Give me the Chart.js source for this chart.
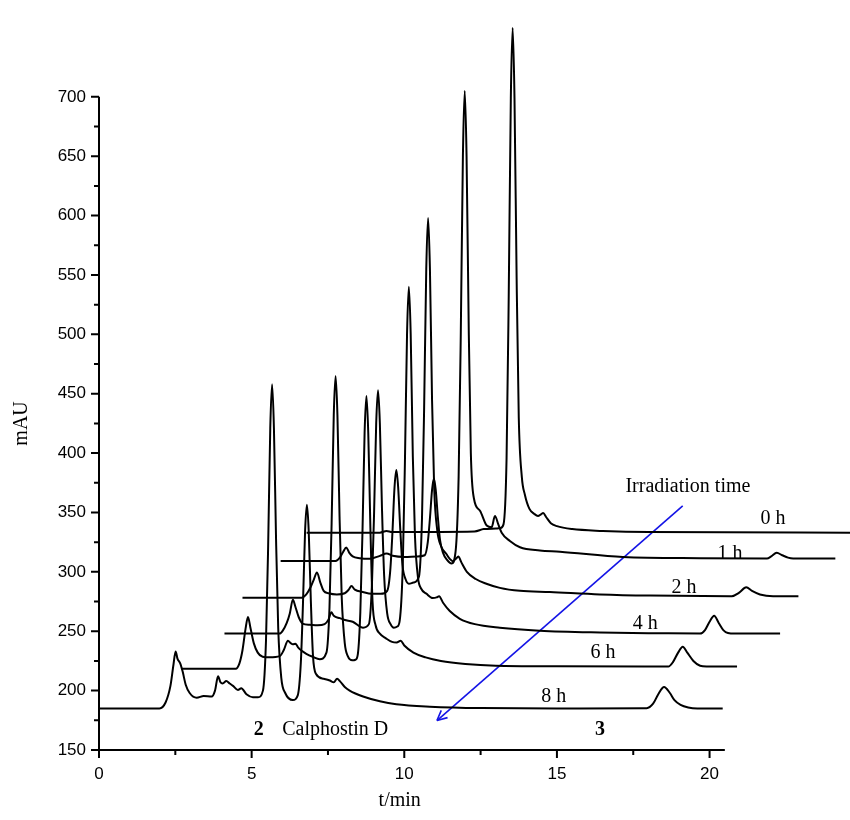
<!DOCTYPE html>
<html>
<head>
<meta charset="utf-8">
<title>Calphostin D irradiation - HPLC traces</title>
<script src="https://cdn.jsdelivr.net/npm/chart.js@4.4.1/dist/chart.umd.min.js"></script>
<style>
  html, body { margin: 0; padding: 0; background: #fff; }
  #chart { display: block; }
</style>
</head>
<body>
<canvas id="chart" width="850" height="820"></canvas>
<script>
// [t/min, mAU] (traces are offset in the figure)
const trace0h = [[6.8,333],[9.2,333],[9.42,334.5],[9.6,333.5],[12.3,334],[12.6,336],[13.0,336.5],[13.15,337],[13.25,340],
    [13.35,395],[13.42,530],[13.49,699],[13.55,758],[13.61,699],[13.68,547],[13.75,430],[13.85,380],[13.95,365],[14.1,353],
    [14.25,349],[14.38,347],[14.48,348.5],[14.55,349.5],[14.65,346],[14.8,341],[15.0,338.5],[15.5,336],[16.5,334.5],[18.0,333.5],[24.6,333]];

const trace1h = [[5.95,309.2],[7.75,309.2],[7.89,312],[8.0,317],[8.1,320.5],[8.2,316],[8.31,313],[8.54,311.5],[8.87,311],
    [9.2,313.5],[9.42,315.5],[9.62,313.5],[10.02,312.5],[10.41,313],[10.67,314],[10.77,325],[10.84,345],[10.91,369],[10.97,378.6],
    [11.03,369],[11.1,346],[11.17,327],[11.27,316],[11.4,310],[11.55,307],[11.68,317],[11.78,380],[11.85,499],[11.92,650],[11.98,705],
    [12.04,650],[12.11,507],[12.18,400],[12.28,362],[12.48,351.5],[12.7,339],[12.86,337.5],[12.97,347],[13.08,340],[13.19,333],
    [13.46,326],[13.79,320.7],[14.44,318],[15.1,317],[17.16,312.5],[19.69,311.5],[21.88,311.3],[22.02,313],[22.2,316],[22.38,314],
    [22.57,312],[22.74,311.3],[24.12,311.3]];

const trace2h = [[4.7,278.2],[6.64,278.2],[6.79,281],[6.93,287],[7.03,293],[7.14,299.5],[7.25,291],[7.36,284],[7.52,282],
    [7.79,281],[8.05,282],[8.18,285],[8.27,288],[8.38,285],[8.64,283],[8.93,281.5],[9.23,281.5],[9.44,284],[9.54,301],[9.61,332],
    [9.68,371],[9.74,385.7],[9.8,371],[9.87,335],[9.94,306],[10.04,294],[10.15,290],[10.3,291],[10.48,296],[10.58,345],[10.65,438],
    [10.72,555],[10.78,598],[10.84,555],[10.91,444],[10.98,370],[11.08,335],[11.2,322],[11.38,315],[11.49,311],[11.59,309],
    [11.69,311],[11.77,313],[11.87,308],[12.05,300],[12.34,294],[12.69,290],[13.13,286.5],[13.79,284],[14.77,283],[16.41,281],
    [18.05,280],[20.73,279.5],[20.97,282.5],[21.2,287],[21.39,284],[21.65,281],[22.08,279.5],[22.91,279.5]];

const trace4h = [[4.11,248],[5.92,248],[6.02,250.5],[6.15,257],[6.25,265],[6.35,276.5],[6.44,270],[6.54,262],[6.67,256.5],
    [6.9,255.5],[7.16,255],[7.39,256],[7.52,260],[7.61,266],[7.69,263],[7.89,261],[8.05,259.5],[8.31,258],[8.65,253],[8.84,256],
    [8.94,289],[9.01,349],[9.08,425],[9.14,453],[9.2,425],[9.27,353],[9.34,297],[9.44,265],[9.55,256],[9.66,253],[9.77,254],
    [9.85,259],[9.95,305],[10.02,391],[10.09,500],[10.15,540],[10.21,500],[10.28,397],[10.35,330],[10.45,295],[10.55,286],
    [10.73,281.5],[10.93,278],[11.06,278.5],[11.14,279.5],[11.27,274],[11.49,267],[11.82,260.5],[12.31,256],[13.13,253],
    [14.44,250.5],[16.41,249],[18.38,248.3],[19.69,248],[19.85,251],[20.0,258],[20.15,263],[20.3,257],[20.45,251],[20.6,248.5],
    [20.83,248],[22.31,248]];

const trace6h = [[2.7,218.5],[4.48,218.5],[4.6,223],[4.7,234],[4.8,252],[4.88,262],[4.96,253],[5.07,240],[5.2,232],
    [5.36,228.5],[5.59,228],[5.92,229],[6.05,234],[6.19,242],[6.28,240],[6.35,239],[6.44,239.5],[6.52,236.5],[6.64,233.5],
    [6.79,231],[7.0,228.5],[7.23,226.5],[7.45,232],[7.55,270],[7.62,341],[7.69,432],[7.75,465],[7.81,432],[7.88,346],[7.95,279],
    [8.05,240],[8.15,229],[8.3,225.5],[8.4,226],[8.48,231],[8.56,266],[8.63,333],[8.7,417],[8.76,448],[8.82,417],[8.89,337],
    [8.96,275],[9.06,255],[9.2,248],[9.4,244],[9.6,241],[9.75,240.5],[9.88,242],[10.0,238],[10.3,232],[10.7,228],[11.2,225],
    [12.0,222.5],[13.0,221],[15.0,220.5],[18.65,220.3],[18.8,224],[18.97,232],[19.12,237],[19.27,232],[19.47,225],[19.69,221],
    [19.9,220.4],[20.9,220.4]];

const trace8h = [[0,185],[1.98,185],[2.18,190],[2.34,204],[2.44,222],[2.51,233],[2.57,227],[2.66,223],[2.74,216],[2.84,205],
    [2.97,198],[3.2,194],[3.43,195.5],[3.69,195],[3.8,200],[3.9,212],[3.98,207],[4.05,206],[4.17,208],[4.28,206],[4.39,204],
    [4.55,200.5],[4.66,202],[4.83,197],[5.04,194.5],[5.21,194.5],[5.37,200],[5.47,242],[5.54,321],[5.61,421],[5.67,458],
    [5.73,421],[5.8,327],[5.87,253],[5.97,211],[6.1,198],[6.35,192],[6.51,196],[6.61,223],[6.68,272],[6.75,334],[6.81,356.5],
    [6.87,334],[6.94,275],[7.01,229],[7.11,214],[7.36,210],[7.56,208.5],[7.69,207],[7.8,210],[7.89,208],[8.05,203],[8.21,200],
    [8.65,195],[9.2,191],[9.74,188.5],[10.84,186.5],[12.5,185.3],[15.0,185],[17.94,185.2],[18.15,189],[18.32,197],[18.51,203],
    [18.7,198],[18.85,192],[19.05,188],[19.3,185.8],[19.6,185],[20.43,185]];

const traces = [trace0h, trace1h, trace2h, trace4h, trace6h, trace8h];
const traceNames = ['0 h', '1 h', '2 h', '4 h', '6 h', '8 h'];
const nameTimes = [22.08, 20.67, 19.16, 17.89, 16.51, 14.9];
const nameLevels = [344.5, 315.1, 286.6, 256.3, 231.9, 195];

const xTicks = [0, 5, 10, 15, 20];
const xMinorTicks = [2.5, 7.5, 12.5, 17.5];
const yTicks = [150, 200, 250, 300, 350, 400, 450, 500, 550, 600, 650, 700];
const yMinorTicks = [175, 225, 275, 325, 375, 425, 475, 525, 575, 625, 675];
const xAxisEnd = 20.5;

const arrowLine = [[19.12, 355.5], [11.07, 174.8]];
const peakNotes = ['2', 'Calphostin D', '3'];
const peakNoteTimes = [5.23, 6.0, 16.41];
const peakNoteLevel = 167;

const serif = '"Liberation Serif", "Times New Roman", serif';
const sans = '"Liberation Sans", Arial, sans-serif';

const decorations = {
    id: 'decorations',
    afterDraw(chart) {
        const { ctx, scales } = chart;
        const px = v => scales.x.getPixelForValue(v);
        const py = v => scales.y.getPixelForValue(v);
        ctx.save();

        // axis lines and tick marks
        ctx.strokeStyle = '#000';
        ctx.lineWidth = 2;
        ctx.beginPath();
        ctx.moveTo(px(0), py(700));
        ctx.lineTo(px(0), py(150));
        ctx.lineTo(px(xAxisEnd), py(150));
        xTicks.forEach(v => { ctx.moveTo(px(v), py(150)); ctx.lineTo(px(v), py(150) + 8); });
        xMinorTicks.forEach(v => { ctx.moveTo(px(v), py(150)); ctx.lineTo(px(v), py(150) + 5); });
        yTicks.forEach(v => { ctx.moveTo(px(0), py(v)); ctx.lineTo(px(0) - 8, py(v)); });
        yMinorTicks.forEach(v => { ctx.moveTo(px(0), py(v)); ctx.lineTo(px(0) - 5, py(v)); });
        ctx.stroke();

        // arrow head on the irradiation arrow
        const [a, b] = arrowLine;
        const x1 = px(b[0]), y1 = py(b[1]);
        const ang = Math.atan2(y1 - py(a[1]), x1 - px(a[0]));
        ctx.strokeStyle = '#1414e6';
        ctx.lineWidth = 1.6;
        ctx.beginPath();
        [-0.45, 0.45].forEach(d => {
            ctx.moveTo(x1, y1);
            ctx.lineTo(x1 - 11 * Math.cos(ang + d), y1 - 11 * Math.sin(ang + d));
        });
        ctx.stroke();

        // axis titles
        ctx.fillStyle = '#000';
        ctx.font = '20px ' + serif;
        ctx.textAlign = 'center';
        ctx.textBaseline = 'middle';
        ctx.fillText('t/min', px(9.85), 801);
        ctx.save();
        ctx.translate(22, py(425));
        ctx.rotate(-Math.PI / 2);
        ctx.fillText('mAU', 0, 0);
        ctx.restore();

        // trace labels
        traceNames.forEach((name, i) => ctx.fillText(name, px(nameTimes[i]), py(nameLevels[i])));
        ctx.fillText('Irradiation time', px(19.29), py(371.4));

        // peak notes under the axis
        peakNotes.forEach((txt, i) => {
            const bold = txt.length === 1;
            ctx.font = (bold ? 'bold ' : '') + '20px ' + serif;
            ctx.textAlign = bold ? 'center' : 'left';
            ctx.fillText(txt, px(peakNoteTimes[i]), py(peakNoteLevel));
        });
        ctx.restore();
    }
};

const datasets = traces.map((tr, i) => ({
    label: traceNames[i],
    data: tr.map(p => ({ x: p[0], y: p[1] })),
    borderColor: '#000',
    borderWidth: 2,
    pointRadius: 0,
    fill: false,
    cubicInterpolationMode: 'monotone',
    borderJoinStyle: 'round'
}));

datasets.push({
    label: 'arrow',
    data: arrowLine.map(p => ({ x: p[0], y: p[1] })),
    borderColor: '#1414e6',
    borderWidth: 1.6,
    pointRadius: 0,
    tension: 0
});

new Chart(document.getElementById('chart'), {
    type: 'line',
    data: { datasets },
    options: {
        responsive: false,
        animation: false,
        layout: { padding: { top: 2, right: 0, bottom: 0, left: 0 } },
        plugins: {
            legend: { display: false },
            tooltip: { enabled: false }
        },
        scales: {
            x: {
                type: 'linear',
                min: 0,
                max: 24.6,
                grid: { display: false, drawTicks: false },
                border: { display: false },
                afterBuildTicks: s => { s.ticks = xTicks.map(v => ({ value: v })); },
                afterFit: s => { s.height = 70; },
                ticks: {
                    padding: 14,
                    maxRotation: 0,
                    autoSkip: false,
                    color: '#000',
                    font: { family: sans, size: 17 },
                    callback: v => String(v)
                }
            },
            y: {
                type: 'linear',
                min: 150,
                max: 762,
                grid: { display: false, drawTicks: false },
                border: { display: false },
                afterBuildTicks: s => { s.ticks = yTicks.map(v => ({ value: v })); },
                afterFit: s => { s.width = 99; },
                ticks: {
                    padding: 13,
                    autoSkip: false,
                    color: '#000',
                    font: { family: sans, size: 17 },
                    callback: v => String(v)
                }
            }
        }
    },
    plugins: [decorations]
});
</script>
</body>
</html>
